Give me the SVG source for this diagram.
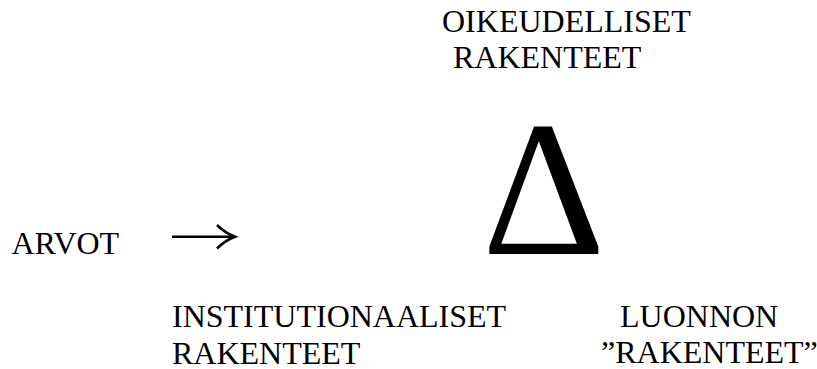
<svg xmlns="http://www.w3.org/2000/svg" width="817" height="369" viewBox="0 0 817 369">
<style>
.t{font-family:"Liberation Serif","Times New Roman",serif;font-size:32px;fill:#000}
.d{font-family:"Liberation Serif","Times New Roman",serif;font-size:192px;fill:#000}
</style>
<rect width="817" height="369" fill="#fff"/>
<g id="node-oikeudelliset">
<text class="t" x="442" y="31.5">OIKEUDELLISET</text>
<text class="t" x="453" y="68">RAKENTEET</text>
</g>
<g id="node-delta">
<text class="d" x="482" y="254">Δ</text>
</g>
<g id="node-arvot">
<text class="t" x="11.5" y="254">ARVOT</text>
</g>
<g id="node-institutionaaliset">
<text class="t" x="172" y="327">INSTITUTIONAALISET</text>
<text class="t" x="172" y="363.5">RAKENTEET</text>
</g>
<g id="node-luonnon">
<text class="t" x="620" y="326.5">LUONNON</text>
<text class="t" x="601" y="363">”RAKENTEET”</text>
</g>
<g id="connectors">
<line x1="172" y1="236.7" x2="234" y2="236.7" stroke="#000" stroke-width="2.6"/>
<path d="M217,225 Q225,233 235,236.7 Q225,240.4 217,248.5" fill="none" stroke="#000" stroke-width="2.6" stroke-linejoin="miter"/>
</g>
</svg>
